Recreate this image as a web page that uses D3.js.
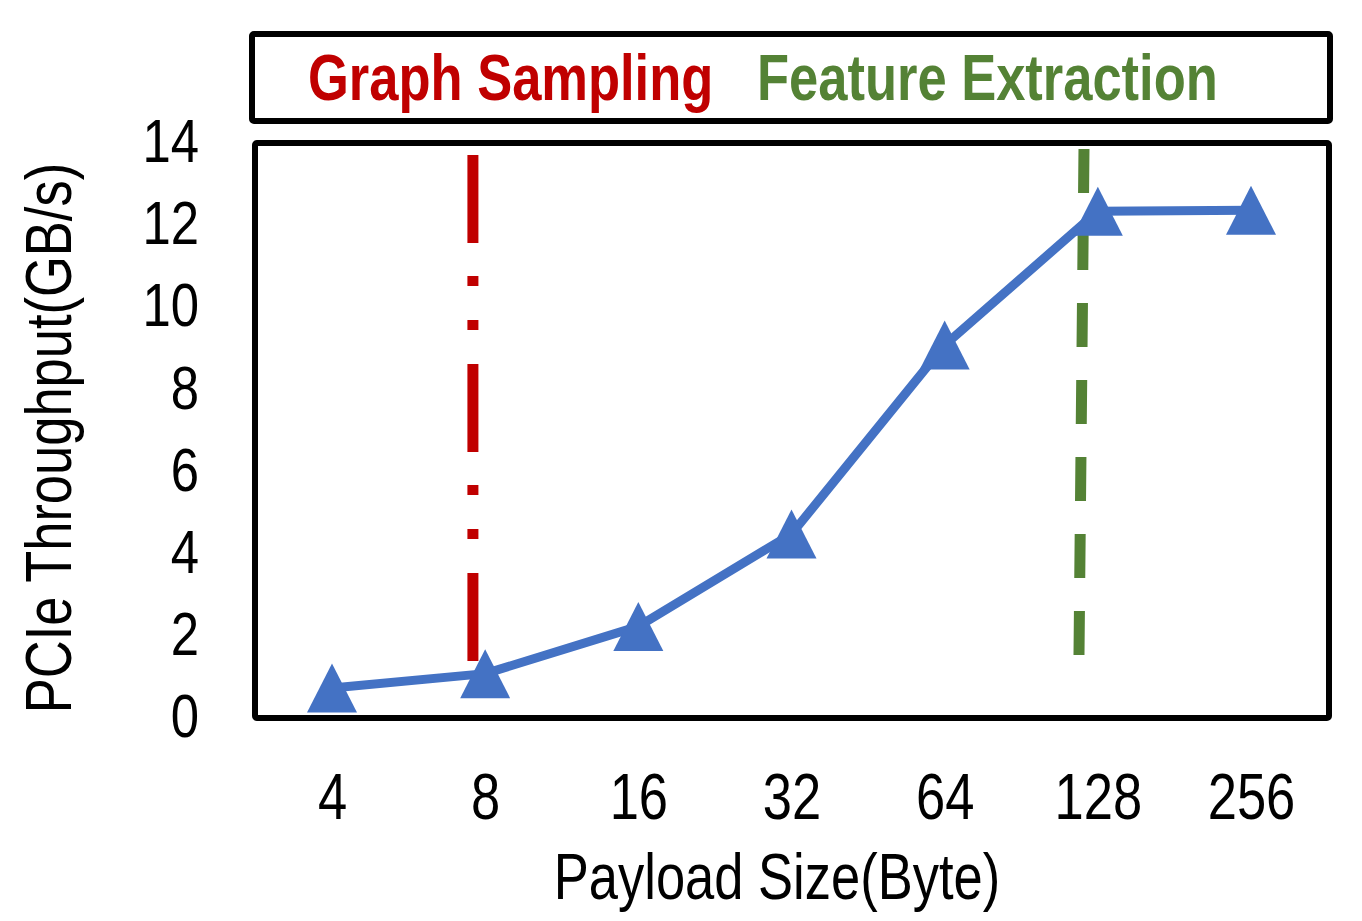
<!DOCTYPE html>
<html>
<head>
<meta charset="utf-8">
<script src="https://cdn.jsdelivr.net/npm/d3@7/dist/d3.min.js"></script>
<style>
  html, body { margin: 0; padding: 0; background: #fff; }
  svg { display: block; }
</style>
</head>
<body>
<svg id="chart" width="1362" height="921"></svg>
<script>
// ---- data ----
const categories = ["4", "8", "16", "32", "64", "128", "256"];
const throughput = [0.73, 1.08, 2.23, 4.48, 9.08, 12.34, 12.36];
const yTicks = [0, 2, 4, 6, 8, 10, 12, 14];
const legendLabels = ["Graph Sampling", "Feature Extraction"];
const markerPositions = [0.92, 4.89]; // category-index positions of the vertical annotation lines
const xTitle = "Payload Size(Byte)";
const yTitle = "PCIe Throughput(GB/s)";

// ---- layout ----
const W = 1362, H = 921;
const box = { left: 255, right: 1329, top: 143, bottom: 718 };
const svg = d3.select("#chart");

const narrow = "'Liberation Sans Narrow', 'Arial Narrow'";
function hasFont(f) {
  const c = document.createElement("canvas").getContext("2d");
  c.font = "64px monospace"; const a = c.measureText("Payload Size(Byte)").width;
  c.font = "64px " + f + ", monospace"; const b = c.measureText("Payload Size(Byte)").width;
  return Math.abs(a - b) > 1;
}
const haveNarrow = hasFont("'Liberation Sans Narrow'");
const fontFam = haveNarrow ? narrow + ", sans-serif" : "'Liberation Sans', Arial, sans-serif";
function squeeze(sel) {
  if (haveNarrow) return;
  sel.each(function () {
    const w = this.getComputedTextLength();
    d3.select(this).attr("textLength", w * 0.82).attr("lengthAdjust", "spacingAndGlyphs");
  });
}

const x = d3.scaleLinear().domain([0, categories.length - 1]).range([332, 1251]);
const y = d3.scaleLinear().domain([0, 14]).range([box.bottom, box.top]);

// ---- legend box ----
svg.append("rect")
  .attr("x", 252).attr("y", 34).attr("width", 1330 - 252).attr("height", 121 - 34)
  .attr("fill", "#fff").attr("stroke", "#000").attr("stroke-width", 6).attr("rx", 2);

const legColors = ["#C00000", "#548235"];
const legX = [308, 757];
legendLabels.forEach((t, i) => {
  svg.append("text").attr("x", legX[i]).attr("y", 100)
    .attr("font-family", fontFam).attr("font-weight", "bold").attr("font-size", 64)
    .attr("fill", legColors[i]).text(t).call(squeeze);
});

// ---- plot box ----
svg.append("rect")
  .attr("x", box.left).attr("y", box.top)
  .attr("width", box.right - box.left).attr("height", box.bottom - box.top)
  .attr("fill", "none").attr("stroke", "#000").attr("stroke-width", 6).attr("rx", 2);

// ---- y axis ----
const yAxis = d3.axisLeft(y).tickValues(yTicks).tickSize(0).tickPadding(0).tickFormat(d3.format("d"));
const yg = svg.append("g").attr("transform", "translate(199,0)").call(yAxis);
yg.select(".domain").remove();
yg.selectAll("text").attr("font-family", fontFam).attr("font-size", 62).attr("fill", "#000")
  .attr("dy", "0.3em").call(squeeze);

// ---- x axis ----
const xAxis = d3.axisBottom(x).tickValues(d3.range(categories.length)).tickSize(0).tickPadding(0)
  .tickFormat(i => categories[i]);
const xg = svg.append("g").attr("transform", "translate(0,819)").call(xAxis);
xg.select(".domain").remove();
xg.selectAll("text").attr("font-family", fontFam).attr("font-size", 64).attr("fill", "#000")
  .attr("dy", 0).call(squeeze);

// ---- titles ----
svg.append("text").attr("x", 777).attr("y", 899).attr("text-anchor", "middle")
  .attr("font-family", fontFam).attr("font-size", 64).attr("fill", "#000").text(xTitle).call(squeeze);
svg.append("text").attr("transform", "translate(71,438) rotate(-90)").attr("text-anchor", "middle")
  .attr("font-family", fontFam).attr("font-size", 64).attr("fill", "#000").text(yTitle).call(squeeze);

// ---- annotation lines ----
svg.append("line")
  .attr("x1", x(markerPositions[0])).attr("x2", x(markerPositions[0]))
  .attr("y1", 155).attr("y2", 661)
  .attr("stroke", "#C00000").attr("stroke-width", 11)
  .attr("stroke-dasharray", "88,33,10,34,10,34");
svg.append("line")
  .attr("x1", x(markerPositions[1]) + 3).attr("x2", x(markerPositions[1]) - 2)
  .attr("y1", 149).attr("y2", 655)
  .attr("stroke", "#548235").attr("stroke-width", 11)
  .attr("stroke-dasharray", "44,33");

// ---- series ----
const pts = throughput.map((v, i) => [x(i), y(v)]);
svg.append("path").datum(pts)
  .attr("d", d3.line())
  .attr("fill", "none").attr("stroke", "#4472C4").attr("stroke-width", 9)
  .attr("stroke-linejoin", "round");

const tw = 50, th = 49;
svg.selectAll("path.marker").data(pts).enter().append("path")
  .attr("class", "marker")
  .attr("d", d => `M${d[0]},${d[1] - th / 2}L${d[0] + tw / 2},${d[1] + th / 2}L${d[0] - tw / 2},${d[1] + th / 2}Z`)
  .attr("fill", "#4472C4");
</script>
</body>
</html>
